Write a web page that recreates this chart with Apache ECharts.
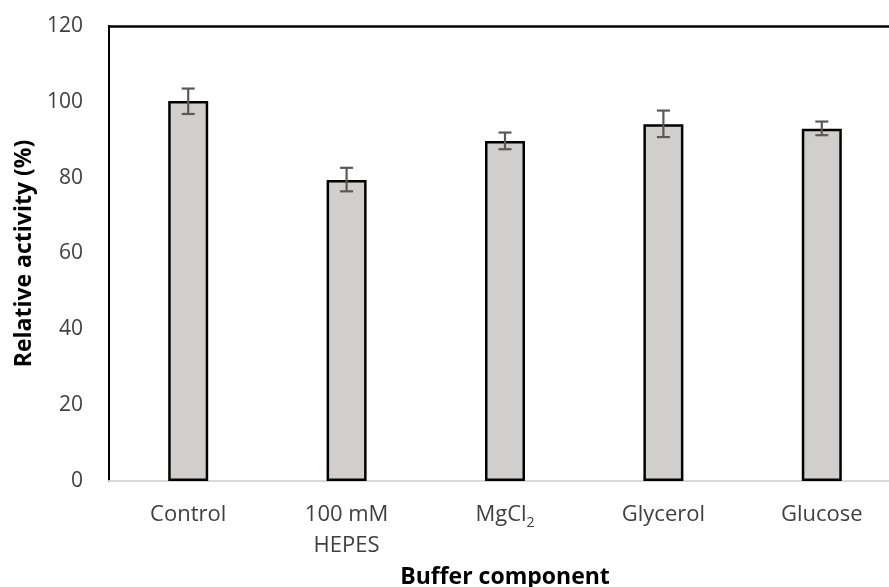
<!DOCTYPE html>
<html><head><meta charset="utf-8">
<script src="https://cdn.jsdelivr.net/npm/echarts@6/dist/echarts.min.js"></script>
<style>html,body{margin:0;padding:0;background:#fff}#c{width:889px;height:587px}</style>
</head><body><div id="c"></div>
<script>
const categories = ['Control', '100 mM\nHEPES', 'MgCl2', 'Glycerol', 'Glucose'];
const activity = [100.2, 79.4, 89.7, 94.1, 92.9];
const errorLow = [96.8, 76.4, 87.5, 90.7, 91.2];
const errorHigh = [103.5, 82.6, 91.9, 97.7, 94.8];
const yTicks = [0, 20, 40, 60, 80, 100, 120];

const FONT = '"Open Sans", "Liberation Sans", sans-serif';
const chart = echarts.init(document.getElementById('c'));
chart.setOption({
  animation: false,
  grid: { left: 109, right: -12, top: 26, bottom: 106, containLabel: false, outerBoundsMode: 'none' },
  xAxis: [{
    type: 'category', data: categories,
    axisLine: { lineStyle: { color: '#d9d9d9', width: 2 } },
    axisTick: { show: false },
    axisLabel: {
      interval: 0, hideOverlap: false,
      fontFamily: FONT, fontSize: 22, color: '#404040', margin: 18, lineHeight: 31,
      formatter: v => v === 'MgCl2' ? 'MgCl{sub|2}' : v,
      rich: { sub: { fontFamily: FONT, fontSize: 14, color: '#404040', verticalAlign: 'bottom', padding: [12, 0, 0, 0] } }
    },
    name: 'Buffer component', nameLocation: 'middle', nameGap: 81,
    nameTextStyle: { fontFamily: FONT, fontSize: 23, fontWeight: 'bold', color: '#000' }
  }, {
    type: 'category', data: categories, position: 'top',
    axisLine: { show: true, lineStyle: { color: '#000', width: 2.5 } },
    axisTick: { show: false }, axisLabel: { show: false }
  }],
  yAxis: {
    type: 'value', min: yTicks[0], max: yTicks[yTicks.length - 1], interval: 20,
    axisLine: { show: true, lineStyle: { color: '#000', width: 2 } },
    axisTick: { show: false }, splitLine: { show: false },
    axisLabel: { fontFamily: FONT, fontSize: 21, color: '#404040', margin: 26 },
    name: 'Relative activity (%)', nameLocation: 'middle', nameGap: 70,
    nameTextStyle: { fontFamily: FONT, fontSize: 23, fontWeight: 'bold', color: '#000' }
  },
  series: [{
    type: 'bar', data: activity, barWidth: 40,
    itemStyle: { color: '#d0cfce', borderColor: '#000', borderWidth: 2.5 }
  }, {
    type: 'custom',
    data: categories.map((c, i) => [i, errorLow[i], errorHigh[i]]),
    renderItem: (params, api) => {
      const lo = api.coord([api.value(0), api.value(1)]);
      const hi = api.coord([api.value(0), api.value(2)]);
      const hw = 6.5;
      const st = { stroke: '#595959', lineWidth: 2.2 };
      return { type: 'group', children: [
        { type: 'line', shape: { x1: lo[0], y1: lo[1], x2: hi[0], y2: hi[1] }, style: st },
        { type: 'line', shape: { x1: lo[0] - hw, y1: lo[1], x2: lo[0] + hw, y2: lo[1] }, style: st },
        { type: 'line', shape: { x1: hi[0] - hw, y1: hi[1], x2: hi[0] + hw, y2: hi[1] }, style: st }
      ]};
    },
    z: 5
  }]
});
</script></body></html>
